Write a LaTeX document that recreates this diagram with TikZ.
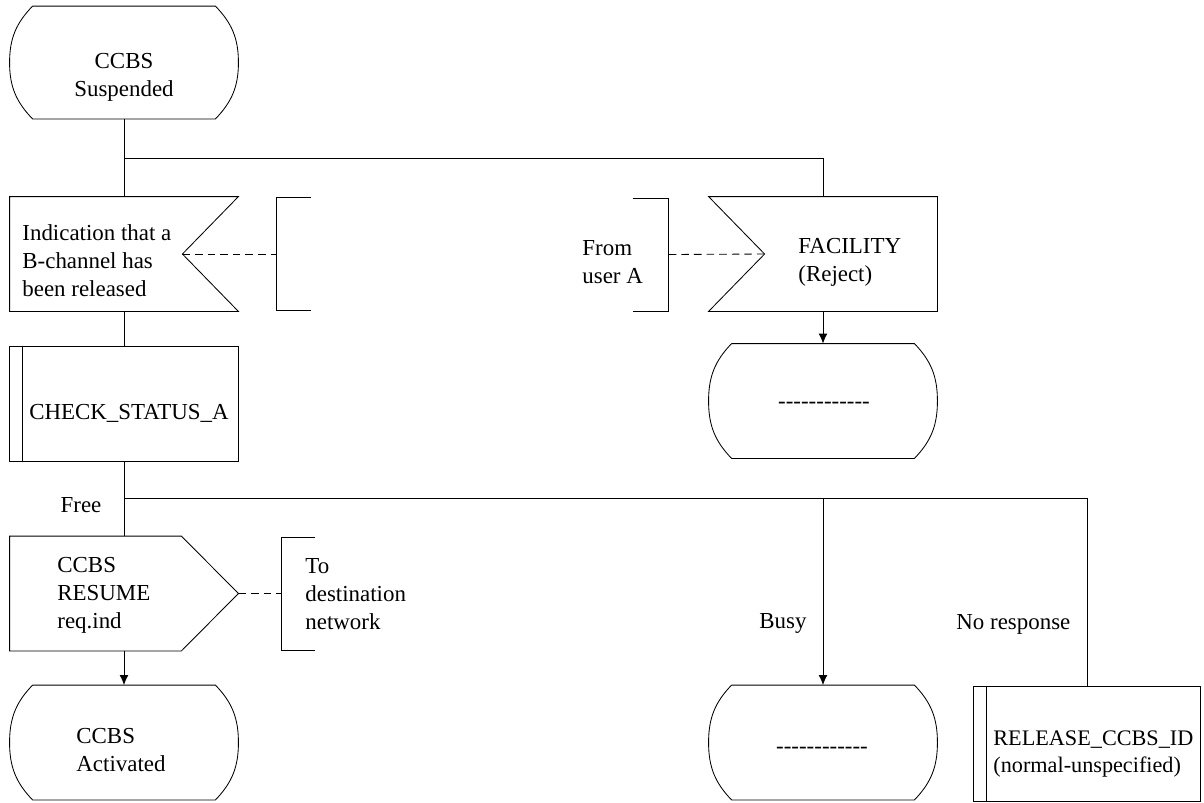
\documentclass[tikz,border=0pt]{standalone}
\usepackage{fontspec}
\setmainfont{Liberation Serif}
\usetikzlibrary{positioning,arrows.meta,calc}
\tikzset{
    sdlbox/.style = {
        shape=rectangle,
        minimum width=5.7cm,
        minimum height=2.85cm,
        inner sep=0pt
    },
    bracket/.style = {
        shape=rectangle,
        minimum width=0.85cm,
        minimum height=2.8cm,
        inner sep=0pt
    },
    txt/.style = {
        font=\fontsize{16.3}{19.9}\selectfont,
        inner sep=0pt,
        align=left
    },
    ctxt/.style = {
        txt,
        align=center
    },
    dashline/.style = {
        dash pattern=on 0.19cm off 0.125cm
    },
    >={Latex[length=0.25cm,width=0.22cm]},
}

\begin{document}
\begin{tikzpicture}[line width=0.6pt]
    \useasboundingbox (0,0) rectangle (30.1,-20.05);

    % states
    \node[sdlbox, minimum height=2.8cm] (susp) at (3.1,-1.5625) {};
    \node[sdlbox] (rej) at (20.575,-10.025) {};
    \node[sdlbox] (act) at (3.1,-18.5625) {};
    \node[sdlbox] (busy) at (20.575,-18.5625) {};
    % signals
    \node[sdlbox] (ind) at (3.1,-6.35) {};
    \node[sdlbox] (fac) at (20.575,-6.35) {};
    \node[sdlbox] (res) at (3.1,-14.8375) {};
    % procedures
    \node[sdlbox] (chk) at (3.1,-10.0875) {};
    \node[sdlbox, minimum width=5.65cm] (rel) at (27.175,-18.6) {};
    % comments
    \node[bracket] (cmt1) at (7.35,-6.35) {};
    \node[bracket, minimum width=0.875cm] (cmt2) at (16.2625,-6.3625) {};
    \node[bracket, minimum width=0.825cm] (cmt3) at (7.4625,-14.8375) {};

    \foreach \n in {susp,rej,act,busy}
        \draw ($(\n.north west)+(0.575,0)$) -- ($(\n.north east)+(-0.575,0)$)
            to[out=-46,in=90] (\n.east)
            to[out=-90,in=46] ($(\n.south east)+(-0.575,0)$)
            -- ($(\n.south west)+(0.575,0)$)
            to[out=134,in=-90] (\n.west)
            to[out=90,in=-134] ($(\n.north west)+(0.575,0)$);

    \draw (ind.north west) -- (ind.north east) -- ($(ind.east)+(-1.4,0)$)
        -- (ind.south east) -- (ind.south west) -- cycle;
    \draw (fac.north west) -- (fac.north east) -- (fac.south east)
        -- (fac.south west) -- ($(fac.west)+(1.4,0)$) -- cycle;
    \draw (res.north west) -- ($(res.north east)+(-1.425,0)$) -- (res.east)
        -- ($(res.south east)+(-1.425,0)$) -- (res.south west) -- cycle;

    \foreach \n in {chk,rel} {
        \draw (\n.north west) rectangle (\n.south east);
        \draw ($(\n.north west)+(0.31,0)$) -- ($(\n.south west)+(0.31,0)$);
    }

    \draw (cmt1.north east) -- (cmt1.north west) -- (cmt1.south west) -- (cmt1.south east);
    \draw (cmt2.north west) -- (cmt2.north east) -- (cmt2.south east) -- (cmt2.south west);
    \draw (cmt3.north east) -- (cmt3.north west) -- (cmt3.south west) -- (cmt3.south east);

    % texts
    \node[ctxt] (susp-t) at (3.1,-1.925) {CCBS\\Suspended};
    \node[txt, anchor=west] (ind-t) at (0.55,-6.525) {Indication that a\\B-channel has\\been released};
    \node[txt, anchor=west] (fac-t) at (19.95,-6.55) {FACILITY\\(Reject)};
    \node[txt, anchor=west] (from-t) at (14.55,-6.55) {From\\user A};
    \node[ctxt] (chk-t) at (3.225,-10.325) {CHECK\_STATUS\_A};
    \node[ctxt] (rej-t) at (20.6,-10.125) {{-}{-}{-}{-}{-}{-}{-}{-}{-}{-}{-}{-}};
    \node[ctxt] (free-t) at (2.025,-12.625) {Free};
    \node[txt, anchor=west] (res-t) at (1.425,-14.875) {CCBS\\RESUME\\req.ind};
    \node[txt, anchor=west] (to-t) at (7.625,-14.85) {To\\destination\\network};
    \node[txt, anchor=west] (busy-t) at (18.975,-15.575) {Busy};
    \node[txt, anchor=west] (nores-t) at (23.9,-15.6) {No response};
    \node[txt, anchor=west] (act-t) at (1.9,-18.75) {CCBS\\Activated};
    \node[ctxt] (busy-s) at (20.55,-18.75) {{-}{-}{-}{-}{-}{-}{-}{-}{-}{-}{-}{-}};
    \node[txt, anchor=west, font=\fontsize{15.8}{19.9}\selectfont] (rel-t) at (24.825,-18.85) {RELEASE\_CCBS\_ID\\(normal-unspecified)};

    % connectors
    \coordinate (j1) at (3.1,-3.95);
    \coordinate (j2) at (3.1,-12.45);
    \draw (susp) -- (ind);
    \draw (j1) -| (fac.north);
    \draw (ind) -- (chk);
    \draw (chk) -- (res);
    \draw[->] (fac) -- (rej);
    \draw[->] (res) -- (act);
    \draw[->] (j2) -| (busy.north);
    \draw (j2) -| (rel.north);
    \draw[dashline] ($(ind.east)+(-1.4,0)$) -- (cmt1.west);
    \draw[dashline] ($(fac.west)+(1.4,0)$) -- (cmt2.east);
    \draw[dashline] (res.east) -- (cmt3.west);
\end{tikzpicture}
\end{document}
